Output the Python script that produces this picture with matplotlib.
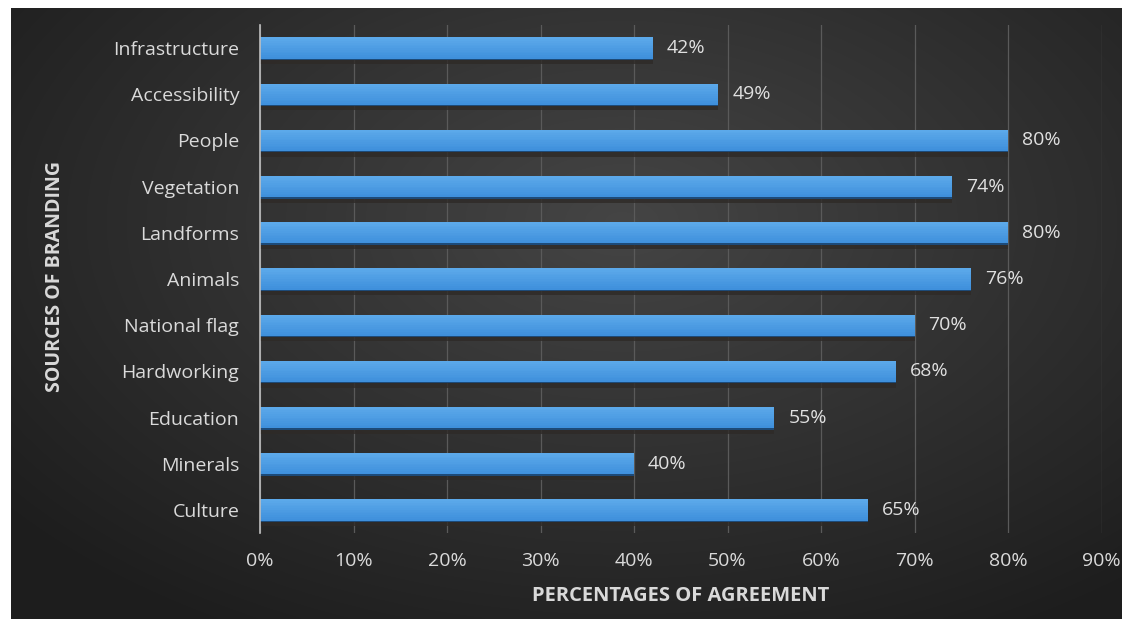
import numpy as np
import matplotlib
matplotlib.use("Agg")
import matplotlib.pyplot as plt

categories = ["Infrastructure", "Accessibility", "People", "Vegetation", "Landforms",
              "Animals", "National flag", "Hardworking", "Education", "Minerals", "Culture"]
values = [42, 49, 80, 74, 80, 76, 70, 68, 55, 40, 65]
xticks = [0, 10, 20, 30, 40, 50, 60, 70, 80, 90]
xtick_labels = [f"{t}%" for t in xticks]

plt.rcParams['font.family'] = ['Open Sans', 'DejaVu Sans']
W, H = 1130, 619
fig = plt.figure(figsize=(W / 100, H / 100), dpi=100, facecolor="white")

# background panel with radial gradient (lighter toward upper centre)
bg = fig.add_axes([11 / W, 0, (1122 - 11) / W, (619 - 8) / H])
yy, xx = np.mgrid[1:-1:300j, -1:1:600j]
r = np.sqrt(((xx - 0.1) / 1.1) ** 2 + ((yy - 0.3) / 1.2) ** 2)
shade = 0.27 - 0.12 * np.clip(r, 0, 1.3)
img = np.dstack([shade, shade, shade])
bg.imshow(img, aspect="auto", extent=[0, 1, 0, 1], interpolation="bilinear")
bg.set_axis_off()

x0, x90 = 260, 1101.5
ytop, ybot = 25, 533
ax = fig.add_axes([x0 / W, 1 - ybot / H, (x90 - x0) / W, (ybot - ytop) / H])
ax.set_facecolor("none")
ypos = np.arange(len(categories))
bh = 0.46
fs = 14
# soft shadow below bars
ax.barh(ypos + 0.12, values, height=bh, color="#2e2a27", alpha=0.8, zorder=2)
ax.barh(ypos + 0.03, values, height=bh, color="#1d4a78", zorder=3)
# smooth vertical gradient within bars
n = 12
top_c = np.array([0x5c, 0xa9, 0xea]) / 255
bot_c = np.array([0x3f, 0x90, 0xdc]) / 255
for i in range(n):
    f = i / (n - 1)
    c = top_c * (1 - f) + bot_c * f
    yc = ypos - bh / 2 + (i + 0.5) * bh / n
    ax.barh(yc, values, height=bh / n * 1.05, color=c, zorder=4, linewidth=0)
for y, v in zip(ypos, values):
    ax.text(v + 1.5, y, f"{v}%", va="center", ha="left", color="#e0e0e0", fontsize=fs, zorder=7)

ax.set_xlim(0, 90)
ax.set_ylim(len(categories) - 0.5, -0.5)
ax.set_xticks(xticks)
ax.set_xticklabels(xtick_labels)
ax.set_yticks(ypos)
ax.set_yticklabels(categories)
ax.tick_params(axis="both", length=0, colors="#dadada", labelsize=fs)
ax.tick_params(axis="x", pad=14)
ax.tick_params(axis="y", pad=15)
ax.grid(axis="x", color="#5a5a5a", linewidth=0.9, zorder=0)
ax.set_axisbelow(True)
for s in ["top", "right", "bottom"]:
    ax.spines[s].set_visible(False)
ax.spines["left"].set_color("#bfbfbf")
ax.spines["left"].set_linewidth(1.2)
ax.spines["left"].set_zorder(8)

fig.text(681 / W, 1 - 596 / H, "PERCENTAGES OF AGREEMENT", ha="center", va="center",
         color="#d9d9d9", fontsize=14.5, fontweight="bold")
fig.text(55 / W, 1 - 276 / H, "SOURCES OF BRANDING", ha="center", va="center", rotation=90,
         color="#d9d9d9", fontsize=14, fontweight="bold")

fig.savefig("out.png", dpi=100, facecolor="white")
